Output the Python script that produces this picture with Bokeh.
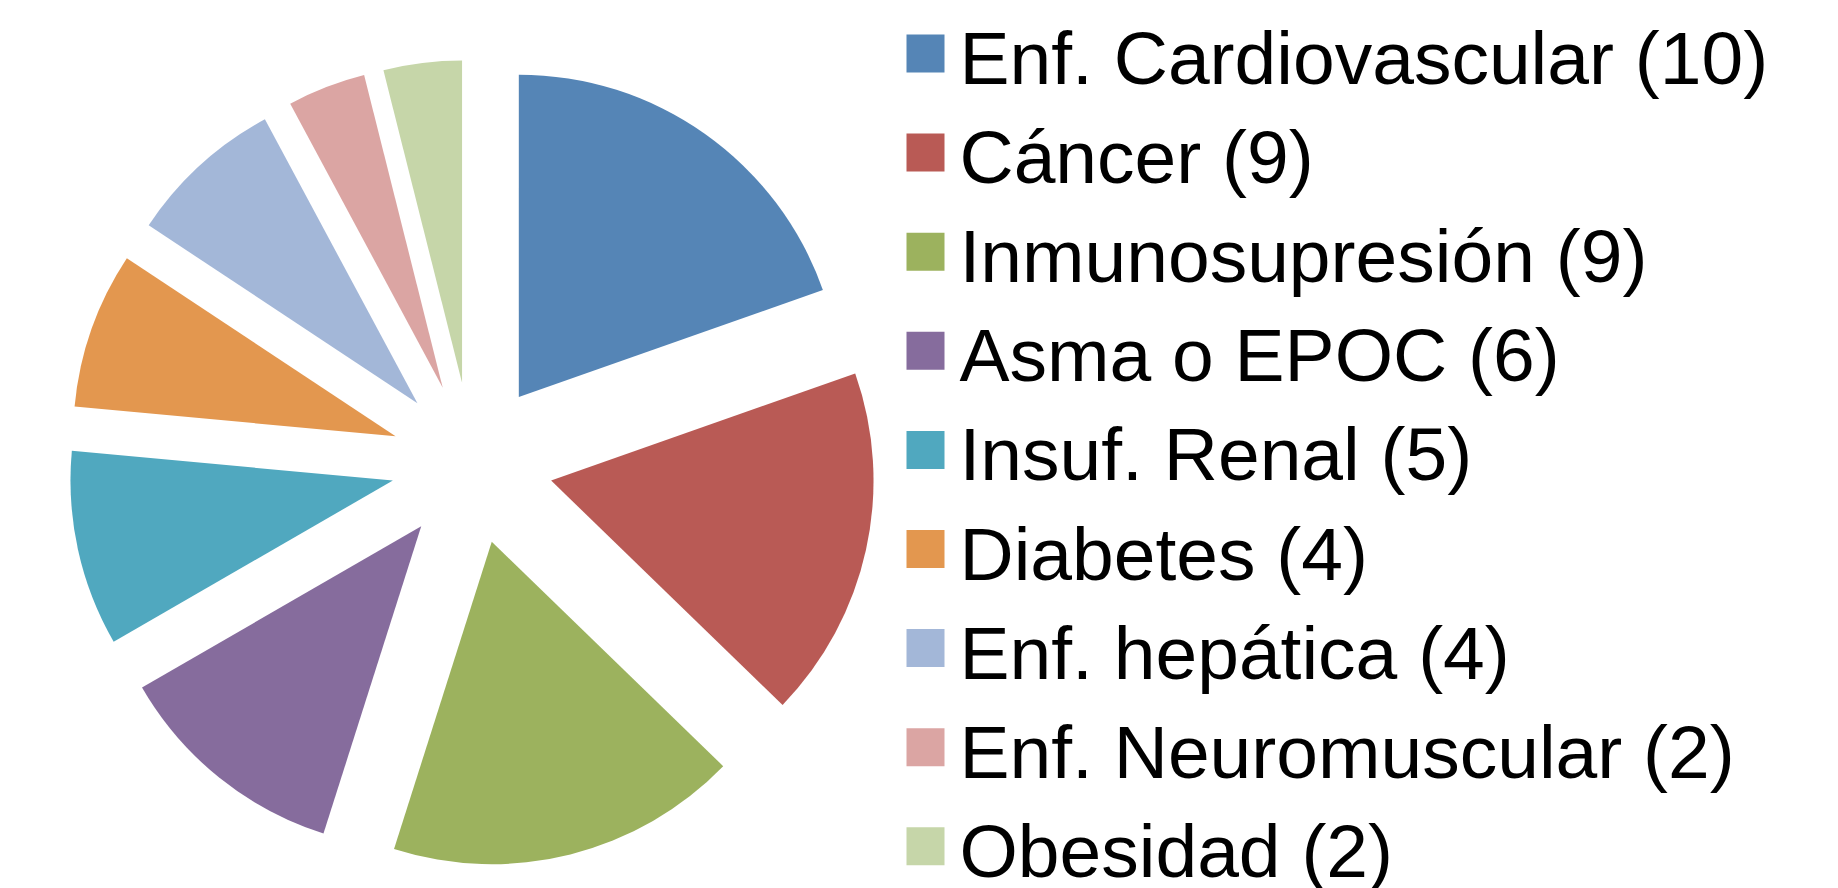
import math
from bokeh.plotting import figure
from bokeh.models import Range1d, ColumnDataSource
from bokeh.core.properties import value
from bokeh.embed import file_html
from bokeh.resources import INLINE

# ---- data ----
categories = ["Enf. Cardiovascular", "Cáncer", "Inmunosupresión", "Asma o EPOC",
              "Insuf. Renal", "Diabetes", "Enf. hepática", "Enf. Neuromuscular", "Obesidad"]
counts = [10, 9, 9, 6, 5, 4, 4, 2, 2]
colors = ["#5585B6", "#B95A55", "#9CB25E", "#866C9D", "#50A8BF",
          "#E3974F", "#A3B7D8", "#DBA5A3", "#C6D6A9"]

# ---- layout (screen px) ----
W, H = 1838, 888
cx_s, cy_s = 471.5, 462.7   # pie centre (screen)
radius = 322.4
explode = 81.0

p = figure(width=W, height=H, output_backend="svg", toolbar_location=None,
           x_range=Range1d(0, W), y_range=Range1d(0, H),
           min_border=0, outline_line_color=None)
p.axis.visible = False
p.grid.visible = False
p.background_fill_color = "white"
p.border_fill_color = "white"

total = sum(counts)
xs, ys, starts, ends = [], [], [], []
cum = 0.0
for n in counts:
    a0 = cum / total * 360.0
    a1 = (cum + n) / total * 360.0
    mid = math.radians((a0 + a1) / 2)
    xs.append(cx_s + explode * math.sin(mid))
    ys.append((H - cy_s) + explode * math.cos(mid))
    starts.append(math.radians(90 - a0))
    ends.append(math.radians(90 - a1))
    cum += n

src = ColumnDataSource(dict(x=xs, y=ys, start=starts, end=ends, color=colors))
p.wedge(x="x", y="y", radius=radius, start_angle="start", end_angle="end",
        direction="clock", fill_color="color", line_color=None, source=src)

# ---- legend ----
row_h = 99.1
sq_left, sq_size, sq_top0 = 906, 38, 34
fs = 75
text_x, base0 = 959, 86.8
base_shift = 0.39 * fs
labels = [f"{c} ({n})" for c, n in zip(categories, counts)]
lx0, lx1, ly0, ly1, tx, ty = [], [], [], [], [], []
for i in range(len(labels)):
    top = sq_top0 + row_h * i
    lx0.append(sq_left); lx1.append(sq_left + sq_size)
    ly1.append(H - top); ly0.append(H - top - sq_size)
    tx.append(text_x); ty.append(H - (base0 + row_h * i - base_shift))

lsrc = ColumnDataSource(dict(left=lx0, right=lx1, bottom=ly0, top=ly1, color=colors,
                             tx=tx, ty=ty, label=labels))
p.quad(left="left", right="right", bottom="bottom", top="top", fill_color="color",
       line_color=None, source=lsrc)
p.text(x="tx", y="ty", text="label", source=lsrc, text_font=value("Liberation Sans"),
       text_font_size=f"{fs}px", text_color="black", text_baseline="alphabetic",
       text_align="left")

open("out.html", "w").write(file_html(p, INLINE))
